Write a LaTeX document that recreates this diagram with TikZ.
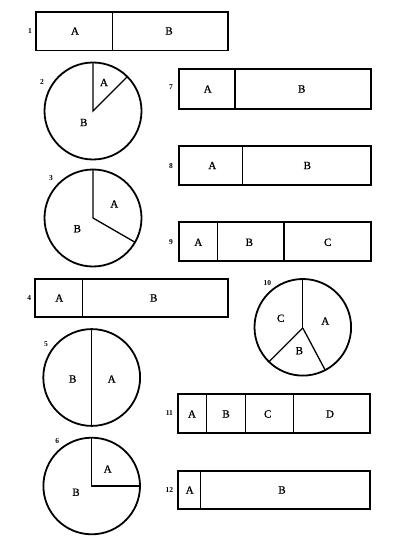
\documentclass[tikz,border=0pt]{standalone}
\usepackage{fontspec}
\setmainfont{Liberation Serif}
\newfontfamily\lblfont[FakeBold=0.9]{Liberation Serif}
\begin{document}
\begin{tikzpicture}[x=1pt,y=-1pt,
  frame/.style={line width=1.9pt},
  ring/.style={line width=1.8pt},
  div/.style={line width=1.3pt},
  lab/.style={font=\lblfont\fontsize{11}{12}\selectfont, inner sep=0pt},
  num/.style={font=\bfseries\fontsize{7.5}{8}\selectfont, inner sep=0pt}]
\useasboundingbox (0,0) rectangle (400,553);
% ---- 1
\draw[frame] (36,12) rectangle (228,50.5);
\draw[div] (112.7,12) -- (112.7,50.5);
\node[num] (n1) at (30,31) {1};
\node[lab] (a1) at (75,31) {A};
\node[lab] (b1) at (169,31) {B};
% ---- 2
\draw[ring] (93,111) circle[radius=48.5pt];
\draw[div] (93,62.5) -- (93,111) -- ++(45:48.5pt);
\node[num] (n2) at (42,82) {2};
\node[lab] (a2) at (104,82.5) {A};
\node[lab] (b2) at (83.7,122.5) {B};
% ---- 3
\draw[ring] (93,218) circle[radius=48.5pt];
\draw[div] (93,169.5) -- (93,218) -- ++(-30:48.5pt);
\node[num] (n3) at (51,178.3) {3};
\node[lab] (a3) at (114.3,204) {A};
\node[lab] (b3) at (77.3,228.7) {B};
% ---- 4
\draw[frame] (34.7,278.7) rectangle (227.7,317.3);
\draw[div] (82.7,278.7) -- (82.7,317.3);
\node[num] (n4) at (29.3,297.7) {4};
\node[lab] (a4) at (59.3,298) {A};
\node[lab] (b4) at (153.7,298) {B};
% ---- 5
\draw[ring] (91.7,377.5) circle[radius=48.4pt];
\draw[div] (91.7,329.1) -- (91.7,425.9);
\node[num] (n5) at (46,344) {5};
\node[lab] (b5) at (72.7,379) {B};
\node[lab] (a5) at (111.7,379) {A};
% ---- 6
\draw[ring] (91.7,486) circle[radius=48.3pt];
\draw[div] (91.7,437.7) -- (91.7,486) -- (140,486);
\node[num] (n6) at (57.3,440.7) {6};
\node[lab] (a6) at (107.7,469) {A};
\node[lab] (b6) at (76,492.3) {B};
% ---- 7
\draw[frame] (179.3,69) rectangle (371,109);
\draw[div] (235,69) -- (235,109);
\node[num] (n7) at (171,87.3) {7};
\node[lab] (a7) at (207.7,89) {A};
\node[lab] (b7) at (301.7,89) {B};
% ---- 8
\draw[frame] (179.3,145.7) rectangle (371,185);
\draw[div] (242.3,145.7) -- (242.3,185);
\node[num] (n8) at (171,165.7) {8};
\node[lab] (a8) at (212.3,165.5) {A};
\node[lab] (b8) at (307.3,165.5) {B};
% ---- 9
\draw[frame] (179.3,222.3) rectangle (371,261);
\draw[div] (217.3,222.3) -- (217.3,261);
\draw[div] (284,222.3) -- (284,261);
\node[num] (n9) at (171,242.3) {9};
\node[lab] (a9) at (198.3,242.3) {A};
\node[lab] (b9) at (249.3,242.3) {B};
\node[lab] (c9) at (327.7,242.3) {C};
% ---- 10
\coordinate (o10) at (302.8,328);
\draw[ring] (302.8,327.3) circle[radius=48.3pt];
\draw[div] (302.8,279) -- (o10);
\draw[div] (o10) -- ++(-62:47.6pt);
\draw[div] (o10) -- ++(-135:47.6pt);
\node[num] (n10) at (267.3,283.3) {10};
\node[lab] (c10) at (280.7,318.3) {C};
\node[lab] (a10) at (325.3,321) {A};
\node[lab] (b10) at (299.3,350.7) {B};
% ---- 11
\draw[frame] (178.3,394) rectangle (370,433.3);
\draw[div] (206.7,394) -- (206.7,433.3);
\draw[div] (245.3,394) -- (245.3,433.3);
\draw[div] (293.3,394) -- (293.3,433.3);
\node[num] (n11) at (169.3,413.5) {11};
\node[lab] (a11) at (192,414) {A};
\node[lab] (b11) at (226,414) {B};
\node[lab] (c11) at (267.7,414) {C};
\node[lab] (d11) at (330,414) {D};
% ---- 12
\draw[frame] (178.3,470.7) rectangle (370,509.3);
\draw[div] (200.7,470.7) -- (200.7,509.3);
\node[num] (n12) at (169.3,490) {12};
\node[lab] (a12) at (189.7,490) {A};
\node[lab] (b12) at (282,490) {B};
\end{tikzpicture}
\end{document}
